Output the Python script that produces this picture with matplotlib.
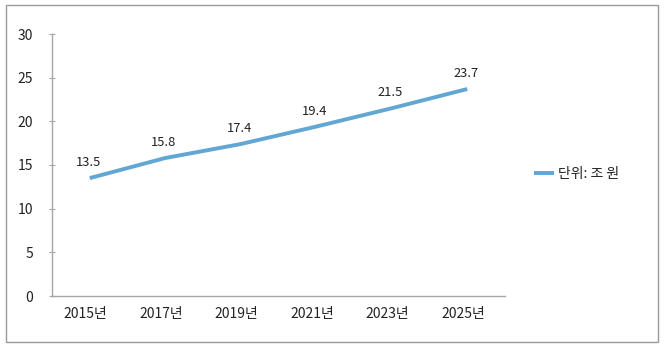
import matplotlib
matplotlib.use("Agg")
import matplotlib.pyplot as plt
from matplotlib.patches import Rectangle
from matplotlib.transforms import ScaledTranslation

plt.rcParams['font.family'] = ['Noto Sans CJK KR', 'DejaVu Sans']

years = ["2015년", "2017년", "2019년", "2021년", "2023년", "2025년"]
values = [13.5, 15.8, 17.4, 19.4, 21.5, 23.7]
series_name = "단위: 조 원"
y_ticks = [0, 5, 10, 15, 20, 25, 30]

line_color = "#62a6d3"
axis_color = "#a6a6a6"
text_color = "#222222"

fig = plt.figure(figsize=(6.64, 3.5), dpi=100)
ax = fig.add_axes([52 / 664, 1 - 296 / 350, (505 - 52) / 664, (296 - 34) / 350])

x = list(range(len(years)))
ax.plot(x, values, color=line_color, linewidth=2.8, solid_capstyle="butt",
        label=series_name)
for xi, v in zip(x, values):
    ax.annotate(f"{v}", (xi, v), xytext=(-1, 11), textcoords="offset points",
                ha="center", va="center", fontsize=9.3, color=text_color)

ax.set_xlim(-0.5, len(years) - 0.5)
ax.set_ylim(0, 30)
ax.set_yticks(y_ticks)
ax.set_xticks(x)
ax.set_xticklabels(years)

for side in ("top", "right"):
    ax.spines[side].set_visible(False)
for side in ("left", "bottom"):
    ax.spines[side].set_color(axis_color)
    ax.spines[side].set_linewidth(1.0)

ax.tick_params(axis="y", direction="inout", length=5, width=0.8, color=axis_color,
               labelsize=10, labelcolor=text_color, pad=11)
ax.tick_params(axis="x", length=0, labelsize=10, labelcolor=text_color, pad=8)

# nudge category labels slightly left of their tick positions
shift = ScaledTranslation(-4 / 100, 0, fig.dpi_scale_trans)
for lbl in ax.get_xticklabels():
    lbl.set_transform(lbl.get_transform() + shift)

fig.legend(handles=ax.get_lines(), labels=[series_name],
           loc="center left", bbox_to_anchor=(521 / 664, 1 - 174 / 350),
           frameon=False, fontsize=10, handlelength=1.5, handletextpad=0.3,
           labelcolor=text_color)

fig.patches.append(Rectangle((6 / 664, 1 - 342 / 350), (658 - 6) / 664, (342 - 5) / 350,
                             transform=fig.transFigure, fill=False,
                             edgecolor="#9a9a9a", linewidth=1.0))

fig.savefig("out.png", dpi=100, facecolor="white")
